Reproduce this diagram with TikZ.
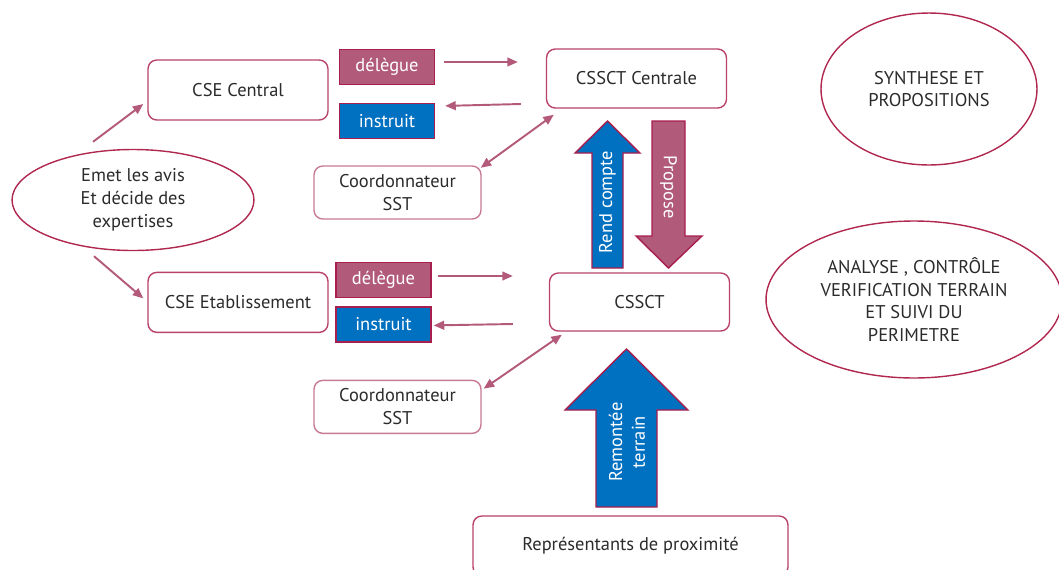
\documentclass[tikz,border=0pt]{standalone}
\usepackage{fontspec}
\setmainfont{PT Sans}
\usetikzlibrary{
  arrows.meta,
  positioning,
  shapes.geometric,
}
\definecolor{ink}{HTML}{2B2B2B}
\definecolor{mauve}{HTML}{B15A79}
\definecolor{tagline}{HTML}{A81E4E}
\definecolor{boxline}{HTML}{B8426C}
\definecolor{softline}{HTML}{C77A95}
\definecolor{ringline}{HTML}{B0284F}
\definecolor{linkcol}{HTML}{B35A7A}
\definecolor{azure}{HTML}{0070C0}
\tikzset{
  >={Triangle[length=6pt,width=5pt]},
}

\begin{document}
\begin{tikzpicture}[
      x=0.02cm, y=-0.02cm,
      every node/.style={font=\fontsize{10.5}{13}\selectfont, text=ink, align=center},
      box/.style={draw=boxline, line width=0.8pt, rounded corners=5pt, minimum width=3.6cm, minimum height=1.16cm},
      coordbox/.style={box, draw=softline, minimum width=3.34cm, minimum height=1.06cm},
      tag/.style={draw=tagline, line width=0.8pt, minimum width=1.9cm, minimum height=0.7cm, inner sep=0pt, text=white},
      bubble/.style={ellipse, draw=ringline, line width=0.8pt, inner sep=0pt},
      conn/.style={draw=linkcol, line width=1.1pt},
      bigarrow/.style={draw=tagline, line width=0.8pt},
    ]
      \useasboundingbox (0,0) rectangle (1059,569);
      % left column
      \node [bubble, minimum width=4.84cm, minimum height=2.02cm] (emet) at (133,200) {Emet les avis\\Et décide des\\expertises};
      \node [box, minimum height=1.2cm] (csec) at (238,90) {CSE Central};
      \node [box, minimum height=1.2cm, below=3.02cm of csec] (csee) {CSE Etablissement};
      % tags
      \node [tag, fill=mauve] (deleg1) at (387,67) {délègue};
      \node [tag, fill=azure, below=0.35cm of deleg1] (instr1) {instruit};
      \node [tag, fill=mauve] (deleg2) at (383.5,280) {délègue};
      \node [tag, fill=azure, below=0.16cm of deleg2] (instr2) {instruit};
      \node [coordbox] (coord1) at (397.5,192.5) {Coordonnateur\\SST};
      \node [coordbox, below=3.2cm of coord1] (coord2) {Coordonnateur\\SST};
      % middle column
      \node [box, minimum height=1.18cm] (cssctc) at (636.5,78.5) {CSSCT Centrale};
      \node [box, minimum height=1.16cm] (cssct) at (639.5,302) {CSSCT};
      \node [box, minimum width=6.3cm, minimum height=1.2cm] (prox) at (630.5,546) {Représentants de proximité};
      % right column
      \node [bubble, minimum width=4.32cm, minimum height=3.04cm] (synth) at (929,89) {SYNTHESE ET\\PROPOSITIONS};
      \node [bubble, minimum width=5.92cm, minimum height=3.14cm] (analyse) at (914,299.5) {ANALYSE , CONTRÔLE\\VERIFICATION TERRAIN\\ET SUIVI DU\\PERIMETRE};

      % connectors
      \draw [conn, ->] ([shift={(-40,-7)}]emet.north) -- ([shift={(-4,14)}]csec.west);
      \draw [conn, ->] ([shift={(-39,5)}]emet.south) -- ([shift={(-4,-4)}]csee.west);
      \draw [conn, ->] ([shift={(8.5,-5)}]deleg1.east) -- ([shift={(-28,-16.5)}]cssctc.west);
      \draw [conn, ->] ([shift={(-25,25.5)}]cssctc.west) -- ([shift={(10,-15)}]instr1.east);
      \draw [conn, <->] ([shift={(-1,2.5)}]coord1.north east) -- ([shift={(8,6)}]cssctc.south west);
      \draw [conn, ->] ([shift={(6,-4)}]deleg2.east) -- ([shift={(-36,-26)}]cssct.west);
      \draw [conn, ->] ([shift={(-36,22)}]cssct.west) -- ([shift={(2,1)}]instr2.east);
      \draw [conn, <->] ([shift={(2,9)}]coord2.north east) -- ([shift={(13,3)}]cssct.south west);

      % big arrows
      \draw [bigarrow, fill=azure] (592,268) -- (592,153) -- (575,153) -- (607.5,121) -- (640,153) -- (623,153) -- (623,268) -- cycle;
      \draw [bigarrow, fill=mauve] (652,121) -- (685,121) -- (685,236) -- (702,236) -- (668.5,268) -- (636,236) -- (652,236) -- cycle;
      \draw [bigarrow, fill=azure] (596,507) -- (596,410) -- (565,410) -- (626.5,349) -- (688,410) -- (657,410) -- (657,507) -- cycle;
      \node [rotate=90, text=white] (rend) at (607.5,202) {Rend compte};
      \node [rotate=-90, text=white] (propose) at (668.5,187) {Propose};
      \node [rotate=90, text=white] (remontee) at (627,442) {Remontée\\terrain};
    \end{tikzpicture}
\end{document}
